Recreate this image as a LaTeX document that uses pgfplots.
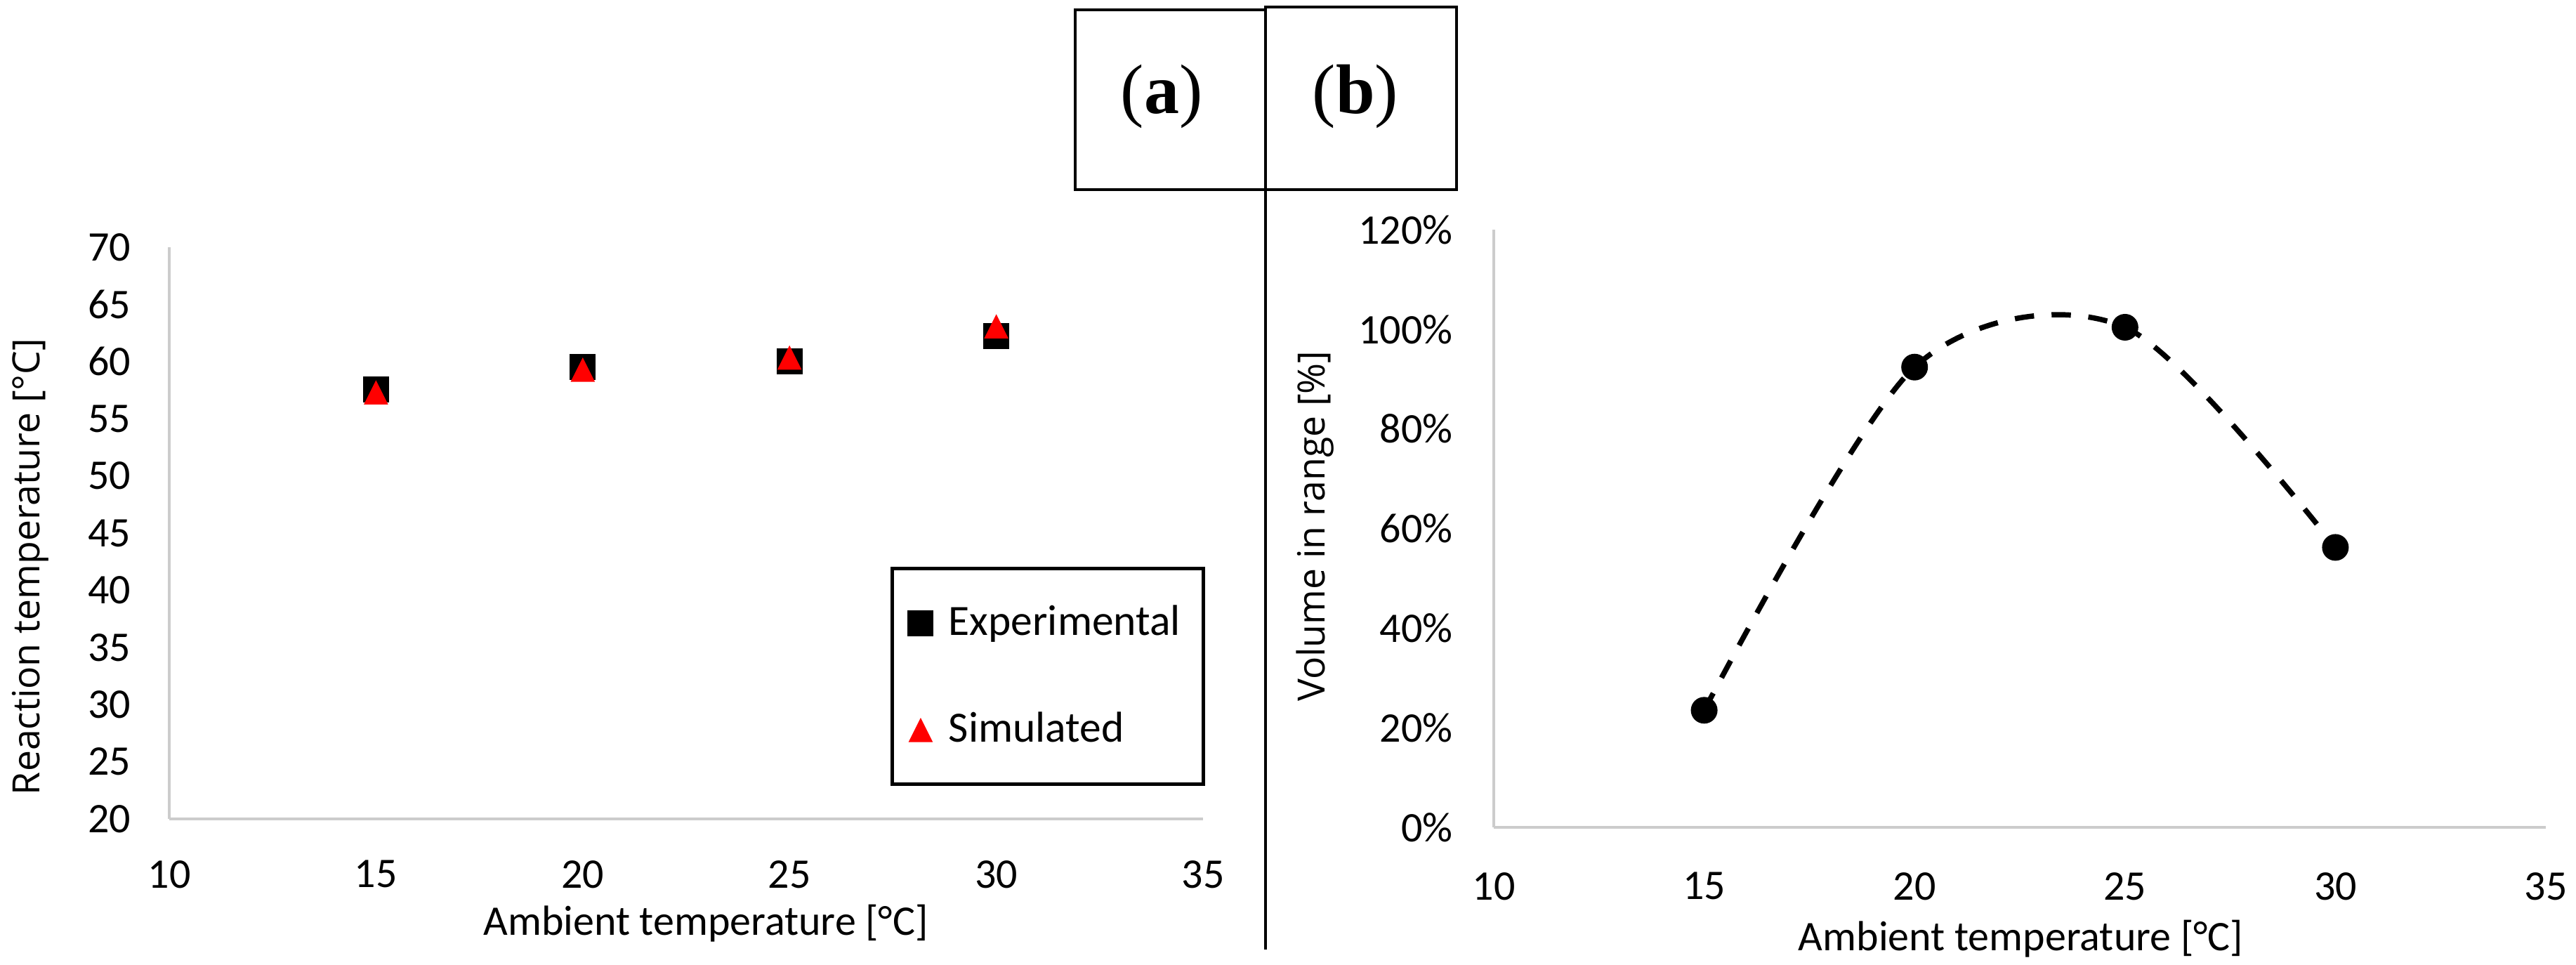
\documentclass[border=0pt]{standalone}
\usepackage{fontspec}
\setmainfont{Carlito}
\newfontfamily\osans{Open Sans}
\newfontfamily\tnr{Liberation Serif}
\usepackage{pgfplots}
\pgfplotsset{compat=1.18}

\pgfdeclareplotmark{xltri}{%
  \pgfpathmoveto{\pgfqpoint{0pt}{\pgfplotmarksize}}%
  \pgfpathlineto{\pgfqpoint{-\pgfplotmarksize}{-\pgfplotmarksize}}%
  \pgfpathlineto{\pgfqpoint{\pgfplotmarksize}{-\pgfplotmarksize}}%
  \pgfpathclose
  \pgfusepathqfill}

\definecolor{axgray}{RGB}{204,204,204}

\pgfplotsset{xlstyle/.style={
  scale only axis,
  axis x line=bottom, axis y line=left,
  axis line style={-, draw=axgray, line width=0.8pt},
  major tick length=0pt,
  /pgf/number format/assume math mode=true,
  ticklabel style={font=\fontsize{12}{14}\selectfont},
  xmin=10, xmax=35, xtick={10,15,...,35},
  clip=false,
}}

\begin{document}
\begin{tikzpicture}
\useasboundingbox (0,0) rectangle (733.6pt,274.8pt);

% ---------- (a) ----------
\begin{axis}[xlstyle,
  at={(48.2pt,41.6pt)}, anchor=south west,
  width=294.4pt, height=162.8pt,
  ymin=20, ymax=70, ytick={20,25,...,70},
  xticklabel style={yshift=-8.3pt},
  yticklabel style={xshift=-7.4pt},
  xlabel={Ambient temperature [°C]},
  ylabel={Reaction temperature [°C]},
  xlabel style={font=\fontsize{12}{14}\selectfont, at={(axis description cs:0.519,-0.1824)}, anchor=center},
  ylabel style={font=\osans\fontsize{10.7}{12}\selectfont, at={(axis description cs:-0.134,0.441)}, anchor=center},
  legend cell align=left,
  legend style={at={(axis description cs:1.002,0.441)}, anchor=north east,
    draw=black, line width=1pt, inner xsep=4.5pt, inner ysep=8.5pt,
    row sep=16.4pt,
    /tikz/every odd column/.append style={column sep=2.5pt},
    font=\fontsize{12.3}{14}\selectfont},
  legend image post style={line width=0.4pt},
]
\addplot[only marks, mark=square*, mark size=3.5pt, color=black, mark options={fill=black}]
  coordinates {(15,57.55) (20,59.53) (25,60.0) (30,62.22)};
\addlegendentry{Experimental}
\addplot[only marks, mark=xltri, mark size=3.45pt, color=red, mark options={fill=red}]
  coordinates {(15,57.31) (20,59.29) (25,60.35) (30,63.08)};
\addlegendentry{Simulated}
\end{axis}

% ---------- (b) ----------
\begin{axis}[xlstyle,
  at={(425.4pt,39.2pt)}, anchor=south west,
  width=299.6pt, height=170.2pt,
  ymin=0, ymax=120, ytick={0,20,...,120},
  yticklabel={\pgfmathprintnumber{\tick}\%},
  xticklabel style={yshift=-9.3pt},
  yticklabel style={xshift=-8.2pt},
  xlabel={Ambient temperature [°C]},
  ylabel={Volume in range [\%]},
  xlabel style={font=\fontsize{12}{14}\selectfont, at={(axis description cs:0.501,-0.187)}, anchor=center},
  ylabel style={font=\osans\fontsize{10.7}{12}\selectfont, at={(axis description cs:-0.170,0.504)}, anchor=center},
]
\addplot[smooth, color=black, line width=1.5pt, dash pattern=on 5.5pt off 5pt]
  coordinates {(15,23.5) (20,92.4) (25,100.4) (30,56.2)};
\addplot[only marks, mark=*, mark size=3.6pt, color=black, mark options={fill=black, solid, line width=0.4pt}]
  coordinates {(15,23.5) (20,92.4) (25,100.4) (30,56.2)};
\end{axis}

% ---------- panel labels and divider ----------
\draw[line width=0.9pt] (306.2pt,220.8pt) rectangle (360.4pt,272pt);
\draw[line width=0.9pt] (360.4pt,220.8pt) rectangle (414.8pt,272.8pt);
\draw[line width=0.9pt] (360.4pt,4.4pt) -- (360.4pt,272.8pt);
\node[font=\tnr\fontsize{20}{24}\selectfont] at (330.8pt,247.4pt) {(\textbf{a})};
\node[font=\tnr\fontsize{20}{24}\selectfont] at (386pt,247.4pt) {(\textbf{b})};
\end{tikzpicture}
\end{document}
